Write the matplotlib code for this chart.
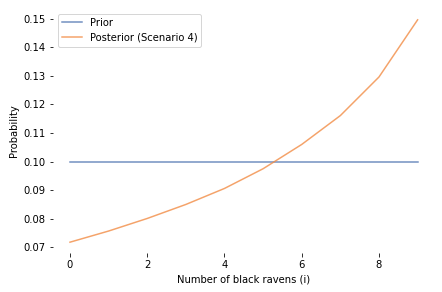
import matplotlib
matplotlib.use("Agg")
import matplotlib.pyplot as plt

ravens = [0, 1, 2, 3, 4, 5, 6, 7, 8, 9]  # number of black ravens
prior = [0.1] * 10
posterior = [0.0718, 0.0757, 0.0801, 0.0850, 0.0906, 0.0975,
             0.1060, 0.1161, 0.1296, 0.1496]

fig = plt.figure(figsize=(442 / 72, 292 / 72), dpi=72)
ax = fig.add_axes([52.6 / 442, 1 - 253.3 / 292, (435 - 52.6) / 442, (253.3 - 8.7) / 292])

ax.plot(ravens, prior, color="#4C72B0", alpha=0.8, label="Prior")
ax.plot(ravens, posterior, color="#F28C45", alpha=0.8, label="Posterior (Scenario 4)")

ax.set_xlabel("Number of black ravens (i)")
ax.set_ylabel("Probability")
for s in ax.spines.values():
    s.set_visible(False)
ax.legend(loc="upper left")

fig.savefig("out.png", dpi=72)
